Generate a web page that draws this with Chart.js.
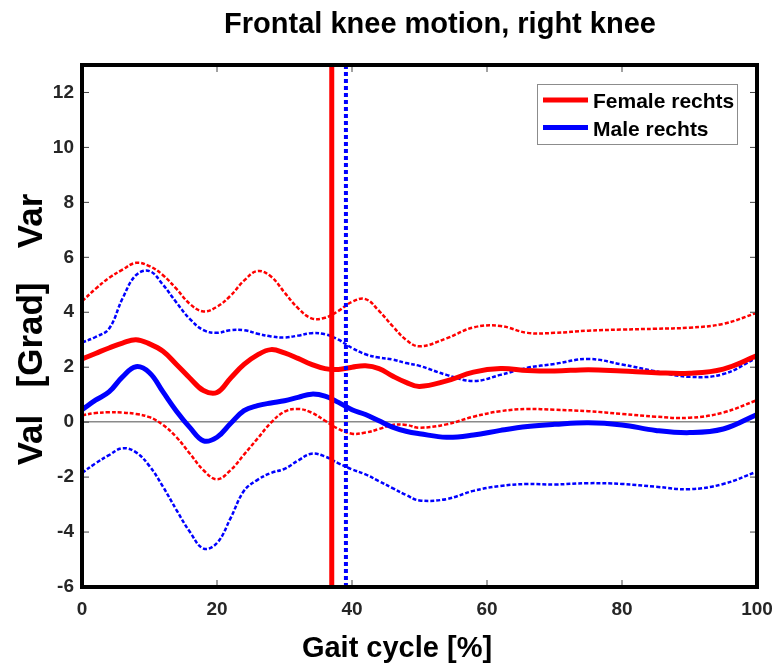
<!DOCTYPE html>
<html>
<head>
<meta charset="utf-8">
<script src="https://cdn.jsdelivr.net/npm/chart.js@4"></script>
<style>
  html, body { margin: 0; padding: 0; background: #fff; }
  #wrap { width: 779px; height: 668px; }
</style>
</head>
<body>
<div id="wrap"><canvas id="chart1" width="779" height="668"></canvas></div>
<script>
// gait cycle sample points [%]
const gait = [0, 2, 4, 6, 8, 10, 12, 14, 16, 18, 20, 22, 24, 26, 28, 30, 32, 34, 36, 38,
  40, 42, 44, 46, 48, 50, 54, 58, 62, 66, 70, 75, 80, 85, 90, 95, 100];

// female, right side: mean and +/- SD band
const femaleMean = [2.3, 2.5, 2.7, 2.88, 3.0, 2.85, 2.58, 2.1, 1.6, 1.15, 1.08, 1.6, 2.1, 2.45, 2.64, 2.52, 2.32, 2.1, 1.95, 1.92,
  2.0, 2.05, 1.95, 1.68, 1.45, 1.3, 1.5, 1.82, 1.95, 1.88, 1.86, 1.91, 1.86, 1.8, 1.78, 1.93, 2.42];
const femaleUpper = [4.4, 4.85, 5.25, 5.55, 5.8, 5.68, 5.35, 4.85, 4.3, 4.03, 4.2, 4.6, 5.15, 5.5, 5.3, 4.72, 4.15, 3.78, 3.8, 4.05,
  4.38, 4.48, 4.05, 3.5, 3.0, 2.76, 3.05, 3.45, 3.5, 3.25, 3.25, 3.33, 3.37, 3.4, 3.44, 3.58, 3.98];
const femaleLower = [0.25, 0.33, 0.36, 0.35, 0.3, 0.18, -0.1, -0.55, -1.15, -1.75, -2.08, -1.75, -1.18, -0.6, -0.02, 0.38, 0.48, 0.35, 0.05, -0.25,
  -0.42, -0.38, -0.25, -0.1, -0.1, -0.2, -0.08, 0.2, 0.4, 0.48, 0.45, 0.4, 0.3, 0.2, 0.16, 0.35, 0.8];

// male, right side
const maleMean = [0.45, 0.8, 1.1, 1.65, 2.02, 1.8, 1.1, 0.4, -0.2, -0.68, -0.55, -0.05, 0.42, 0.6, 0.7, 0.78, 0.9, 1.02, 0.95, 0.72,
  0.45, 0.28, 0.05, -0.18, -0.33, -0.42, -0.55, -0.47, -0.3, -0.16, -0.08, -0.02, -0.1, -0.3, -0.38, -0.25, 0.28];
const maleUpper = [2.9, 3.1, 3.4, 4.5, 5.35, 5.5, 5.0, 4.35, 3.75, 3.35, 3.25, 3.35, 3.35, 3.22, 3.12, 3.08, 3.15, 3.24, 3.2, 3.0,
  2.7, 2.47, 2.35, 2.28, 2.15, 2.05, 1.72, 1.5, 1.72, 1.98, 2.12, 2.3, 2.1, 1.85, 1.65, 1.75, 2.35];
const maleLower = [-1.85, -1.5, -1.2, -0.95, -1.1, -1.6, -2.35, -3.2, -4.0, -4.6, -4.4, -3.5, -2.5, -2.1, -1.85, -1.7, -1.4, -1.15, -1.25, -1.5,
  -1.72, -1.9, -2.15, -2.4, -2.65, -2.85, -2.8, -2.5, -2.32, -2.25, -2.27, -2.22, -2.25, -2.35, -2.44, -2.25, -1.8];

// toe-off markers [% gait cycle]
const toeOffFemale = 37.0;
const toeOffMale = 39.1;

const yMin = -6, yMax = 13;
const RED = "#ff0000", BLUE = "#0000ff";
const FONT = "'Liberation Sans', Arial, sans-serif";

const pts = (ys) => ys.map((v, i) => ({ x: gait[i], y: v }));
const vline = (x) => [{ x: x, y: yMin }, { x: x, y: yMax }];

const datasets = [
  { label: "Female rechts", data: pts(femaleMean), borderColor: RED, borderWidth: 5, order: 2 },
  { label: "Male rechts", data: pts(maleMean), borderColor: BLUE, borderWidth: 5, order: 2 },
  { label: "f+", data: pts(femaleUpper), borderColor: RED, borderWidth: 2.5, borderDash: [4, 2], order: 4 },
  { label: "f-", data: pts(femaleLower), borderColor: RED, borderWidth: 2.5, borderDash: [4, 2], order: 4 },
  { label: "m+", data: pts(maleUpper), borderColor: BLUE, borderWidth: 2.5, borderDash: [4, 2], order: 3 },
  { label: "m-", data: pts(maleLower), borderColor: BLUE, borderWidth: 2.5, borderDash: [4, 2], order: 3 },
  { label: "toF", data: vline(toeOffFemale), borderColor: RED, borderWidth: 5, tension: 0, order: 1 },
  { label: "toM", data: vline(toeOffMale), borderColor: BLUE, borderWidth: 4, borderDash: [4, 3], tension: 0, order: 0 },
];
datasets.forEach((d) => {
  d.pointRadius = 0;
  d.fill = false;
  if (d.tension === undefined) d.tension = 0.4;
});

// frame, inner tick marks, legend box and the texts
const decor = {
  id: "decor",
  afterDraw(chart) {
    const ctx = chart.ctx;
    const a = chart.chartArea;
    const xs = chart.scales.x, ys = chart.scales.y;
    ctx.save();
    // tick marks inside the box
    ctx.strokeStyle = "#444";
    ctx.lineWidth = 1;
    ys.ticks.forEach((t) => {
      const py = ys.getPixelForValue(t.value);
      ctx.beginPath();
      ctx.moveTo(a.left, py); ctx.lineTo(a.left + 7, py);
      ctx.moveTo(a.right, py); ctx.lineTo(a.right - 7, py);
      ctx.stroke();
    });
    xs.ticks.forEach((t) => {
      const px = xs.getPixelForValue(t.value);
      ctx.beginPath();
      ctx.moveTo(px, a.bottom); ctx.lineTo(px, a.bottom - 7);
      ctx.moveTo(px, a.top); ctx.lineTo(px, a.top + 7);
      ctx.stroke();
    });
    // thick frame
    ctx.strokeStyle = "#000";
    ctx.lineWidth = 4;
    ctx.strokeRect(a.left, a.top, a.right - a.left, a.bottom - a.top);

    // legend
    const lx = 537, ly = 84, lw = 200, lh = 60;
    ctx.fillStyle = "#fff";
    ctx.fillRect(lx, ly, lw, lh);
    ctx.strokeStyle = "#8c8c8c";
    ctx.lineWidth = 1;
    ctx.strokeRect(lx + 0.5, ly + 0.5, lw, lh);
    ctx.font = "bold 21px " + FONT;
    ctx.textBaseline = "alphabetic";
    ctx.textAlign = "left";
    [datasets[0], datasets[1]].forEach((d, i) => {
      const yy = ly + 16 + i * 27.5;
      ctx.strokeStyle = d.borderColor;
      ctx.lineWidth = 5;
      ctx.beginPath();
      ctx.moveTo(lx + 6, yy); ctx.lineTo(lx + 51, yy);
      ctx.stroke();
      ctx.fillStyle = "#000";
      ctx.fillText(d.label, lx + 56, yy + 8);
    });

    // titles
    ctx.fillStyle = "#000";
    ctx.textAlign = "center";
    ctx.textBaseline = "middle";
    ctx.font = "bold 29px " + FONT;
    ctx.fillText("Frontal knee motion, right knee", 440, 25);
    ctx.fillText("Gait cycle [%]", 397, 649);
    // y label words, rotated
    ctx.translate(32, 0);
    ctx.rotate(-Math.PI / 2);
    ctx.font = "bold 35px " + FONT;
    [["Val", 440], ["[Grad]", 335], ["Var", 221]].forEach(([w, yc]) => {
      ctx.fillText(w, -yc, 0);
    });
    ctx.restore();
  },
};

const tickFont = { family: FONT, size: 19, weight: "bold" };

const config1 = {
  type: "line",
  data: { datasets: datasets },
  options: {
    responsive: false,
    animation: false,
    layout: { padding: { top: 65, right: 22, left: 0, bottom: 0 } },
    plugins: {
      legend: { display: false },
      tooltip: { enabled: false },
    },
    scales: {
      x: {
        type: "linear",
        min: 0,
        max: 100,
        ticks: { stepSize: 20, color: "#262626", font: tickFont, padding: 3, maxRotation: 0 },
        grid: { display: false },
        border: { display: false },
        afterFit: (s) => { s.height = 81; s.paddingLeft = 0; s.paddingRight = 0; },
      },
      y: {
        min: yMin,
        max: yMax,
        ticks: { stepSize: 2, includeBounds: false, color: "#262626", font: tickFont, padding: 8 },
        grid: {
          drawTicks: false,
          lineWidth: 1.5,
          color: (c) => (c.tick && c.tick.value === 0 ? "#8a8a8a" : "rgba(0,0,0,0)"),
        },
        border: { display: false },
        afterFit: (s) => { s.width = 82; s.paddingTop = 0; s.paddingBottom = 0; },
      },
    },
  },
  plugins: [decor],
};

const lineChart = new Chart(document.getElementById("chart1"), config1);
</script>
</body>
</html>
